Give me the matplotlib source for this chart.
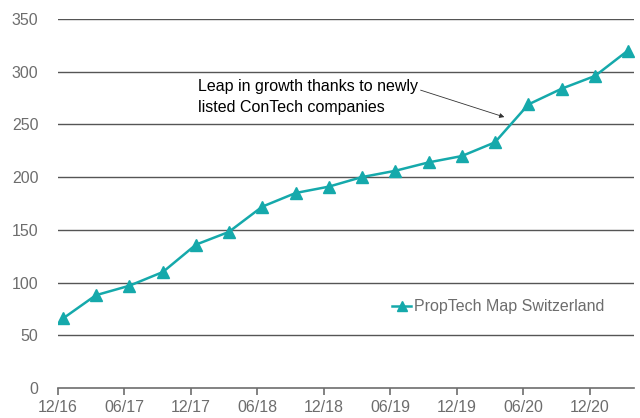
import matplotlib
matplotlib.use("Agg")
import matplotlib.pyplot as plt
import matplotlib.dates as mdates
import numpy as np
from datetime import date

# quarterly counts, PropTech Map Switzerland
quarters = ["2016-12", "2017-03", "2017-06", "2017-09", "2017-12", "2018-03",
            "2018-06", "2018-09", "2018-12", "2019-03", "2019-06", "2019-09",
            "2019-12", "2020-03", "2020-06", "2020-09", "2020-12", "2021-03"]
companies = [66, 88, 97, 110, 136, 148, 172, 185, 191, 200, 206, 214,
             220, 233, 269, 284, 296, 320]
tick_labels = ["12/16", "06/17", "12/17", "06/18", "12/18", "06/19", "12/19", "06/20", "12/20"]

x = [date(int(q[:4]), int(q[5:]), 15) for q in quarters]
ticks = [date(2016 + (11 + 6 * i) // 12, (11 + 6 * i) % 12 + 1, 1) for i in range(len(tick_labels))]

plt.rcParams['font.family'] = ['Liberation Sans', 'DejaVu Sans']
teal = '#15A9AB'
grey = '#6d6d6d'

fig = plt.figure(figsize=(6.4, 4.18), dpi=100)
ax = fig.add_axes([0.0906, 0.0718, 0.9, 0.8827])

for v in range(50, 351, 50):
    ax.axhline(v, color='#555555', linewidth=1.0, zorder=1)

ax.plot(x, companies, color=teal, linewidth=1.8, marker='^', markersize=9,
        label='PropTech Map Switzerland', zorder=3)

ax.set_ylim(0, 350)
ax.set_xlim(date(2016, 12, 1), date(2021, 4, 1))
ax.set_yticks(range(0, 351, 50))
ax.set_xticks(ticks)
ax.set_xticklabels(tick_labels)

for s in ['top', 'right', 'left']:
    ax.spines[s].set_visible(False)
ax.spines['bottom'].set_color(grey)
ax.spines['bottom'].set_linewidth(1.2)
ax.tick_params(axis='y', length=0, pad=14, labelsize=11.5, labelcolor=grey)
ax.tick_params(axis='x', direction='out', length=5, color=grey, width=1.2,
               labelsize=11.5, labelcolor=grey, pad=4)

ax.annotate('Leap in growth thanks to newly\nlisted ConTech companies',
            xy=(date(2020, 4, 10), 257), xytext=(date(2017, 12, 20), 276),
            fontsize=11.5, color='black', va='center', ha='left', linespacing=1.45,
            arrowprops=dict(arrowstyle='-|>', color='#333333', lw=0.6,
                            mutation_scale=7, shrinkA=0, shrinkB=0,
                            relpos=(0.985, 0.75)))

ax.legend(loc='center left', bbox_to_anchor=(0.555, 0.22), frameon=False,
          fontsize=11.5, labelcolor=grey, handlelength=1.2, handletextpad=0.2,
          markerscale=0.8)

fig.savefig('out.png', dpi=100)
